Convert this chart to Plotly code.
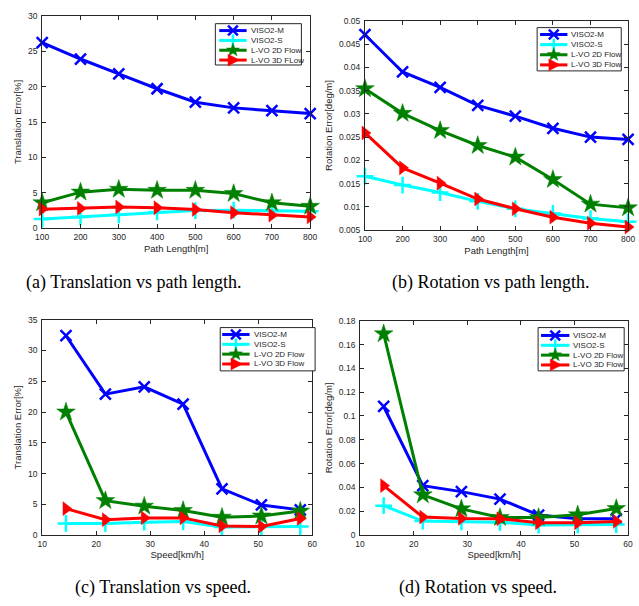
import math
import plotly.graph_objects as go

# ---------------- data ----------------
path_length = [100, 200, 300, 400, 500, 600, 700, 800]
speed = [14.4, 21.7, 28.9, 36.1, 43.3, 50.6, 57.8]

legend_names_a = ["VISO2-M", "VISO2-S", "L-VO 2D Flow", "L-VO 3D FLow"]
legend_names = ["VISO2-M", "VISO2-S", "L-VO 2D Flow", "L-VO 3D Flow"]

trans_path_viso2m = [26.2, 23.9, 21.8, 19.7, 17.8, 17.0, 16.6, 16.2]
trans_path_viso2s = [1.3, 1.6, 1.9, 2.3, 2.5, 2.55, 2.45, 2.4]
trans_path_lvo2d = [3.6, 5.1, 5.5, 5.35, 5.35, 4.9, 3.6, 3.1]
trans_path_lvo3d = [2.7, 2.8, 3.0, 2.9, 2.65, 2.2, 1.85, 1.6]

rot_path_viso2m = [0.0470, 0.0390, 0.0357, 0.0318, 0.0295, 0.0269, 0.0250, 0.0245]
rot_path_viso2s = [0.0166, 0.0147, 0.0131, 0.0112, 0.0096, 0.0086, 0.0075, 0.0068]
rot_path_lvo2d = [0.0354, 0.0301, 0.0264, 0.0232, 0.0207, 0.0159, 0.0106, 0.0098]
rot_path_lvo3d = [0.0259, 0.0184, 0.0151, 0.0117, 0.0096, 0.0078, 0.0065, 0.0057]

trans_speed_viso2m = [32.4, 22.9, 24.1, 21.3, 7.5, 4.9, 4.1]
trans_speed_viso2s = [1.9, 1.9, 2.1, 2.2, 1.3, 1.4, 1.4]
trans_speed_lvo2d = [20.0, 5.6, 4.7, 4.0, 2.9, 3.1, 3.9]
trans_speed_lvo3d = [4.3, 2.5, 2.8, 2.8, 1.5, 1.4, 2.7]

rot_speed_viso2m = [0.108, 0.0415, 0.0365, 0.0302, 0.0168, 0.0137, 0.0137]
rot_speed_viso2s = [0.0247, 0.0118, 0.0112, 0.0108, 0.0085, 0.0086, 0.0088]
rot_speed_lvo2d = [0.169, 0.0338, 0.0220, 0.0148, 0.0148, 0.0170, 0.0223]
rot_speed_lvo3d = [0.0415, 0.0151, 0.0140, 0.0137, 0.0104, 0.0104, 0.0115]

ticks_path = [100, 200, 300, 400, 500, 600, 700, 800]
ticks_speed = [10, 20, 30, 40, 50, 60]
ticks_trans_path = [0, 5, 10, 15, 20, 25, 30]
ticks_trans_speed = [0, 5, 10, 15, 20, 25, 30, 35]
ticks_rot_path = [0.005, 0.01, 0.015, 0.02, 0.025, 0.03, 0.035, 0.04, 0.045, 0.05]
ticklabels_rot_path = ["0.005", "0.01", "0.015", "0.02", "0.025", "0.03", "0.035", "0.04", "0.045", "0.05"]
ticks_rot_speed = [0, 0.02, 0.04, 0.06, 0.08, 0.1, 0.12, 0.14, 0.16, 0.18]
ticklabels_rot_speed = ["0", "0.02", "0.04", "0.06", "0.08", "0.1", "0.12", "0.14", "0.16", "0.18"]

xtitles = ["Path Length[m]", "Path Length[m]", "Speed[km/h]", "Speed[km/h]"]
ytitles = ["Translation Error[%]", "Rotation Error[deg/m]", "Translation Error[%]", "Rotation Error[deg/m]"]
captions = ["(a) Translation vs path length.", "(b) Rotation vs path length.",
            "(c) Translation vs speed.", "(d) Rotation vs speed."]

# ---------------- style / layout (pixels) ----------------
W, H = 639, 606
colors = ["#0000FF", "#00FFFF", "#008000", "#FF0000"]
symbols = ["x-thin", "cross-thin", "star", "triangle-right"]
msize = [11, 12, 14, 12]
TXT = "#262626"
SANS = "Liberation Sans, Arial, sans-serif"
SERIF = "Liberation Serif, Times New Roman, serif"

# plot boxes: (left, right, top, bottom)
boxes = [(36, 310, 11, 227), (366, 635, 16, 229), (36, 312, 320, 539), (361, 635, 321, 539)]
# legend boxes: (left, right, top, bottom, line_x0, line_x1, text_x, first_row, row_step)
legend_boxes = [
    (213, 301, 19, 61, 217, 245, 247, 26, 10.0),
    (542, 628, 23, 67, 545, 573, 575, 30, 10.3),
    (218, 315, 328, 372, 220, 248, 250, 335, 10.0),
    (543, 631, 328, 372, 546, 575, 577, 336, 10.0),
]
cap_pos = [(129, 282), (494, 282), (159, 592), (482, 592)]


def px(x):
    return x / W


def py(y):
    return 1 - y / H


fig = go.Figure()

panels = [
    (path_length, [trans_path_viso2m, trans_path_viso2s, trans_path_lvo2d, trans_path_lvo3d], legend_names_a),
    (path_length, [rot_path_viso2m, rot_path_viso2s, rot_path_lvo2d, rot_path_lvo3d], legend_names),
    (speed, [trans_speed_viso2m, trans_speed_viso2s, trans_speed_lvo2d, trans_speed_lvo3d], legend_names),
    (speed, [rot_speed_viso2m, rot_speed_viso2s, rot_speed_lvo2d, rot_speed_lvo3d], legend_names),
]

for p, (xs, ys_list, names) in enumerate(panels):
    ax = "" if p == 0 else str(p + 1)
    for i, ys in enumerate(ys_list):
        sym = symbols[i]
        fig.add_trace(go.Scatter(
            x=xs, y=ys, mode="lines+markers", name=names[i], showlegend=False,
            xaxis="x" + ax, yaxis="y" + ax,
            line=dict(color=colors[i], width=3),
            marker=dict(symbol=sym, size=msize[i], color=colors[i],
                        line=dict(color=colors[i], width=2.5 if "thin" in sym else 0.5)),
            cliponaxis=False,
        ))

axis_common = dict(
    showline=True, linecolor=TXT, linewidth=1, mirror="allticks",
    ticks="inside", ticklen=4, tickcolor=TXT, tickwidth=1,
    showgrid=False, zeroline=False,
    tickfont=dict(family=SANS, size=8.5, color=TXT),
)
xranges = [[100, 800], [100, 800], [10, 60], [10, 60]]
xticks = [ticks_path, ticks_path, ticks_speed, ticks_speed]
yranges = [[0, 30], [0.005, 0.05], [0, 35], [0, 0.18]]
yticks = [(ticks_trans_path, None), (ticks_rot_path, ticklabels_rot_path),
          (ticks_trans_speed, None), (ticks_rot_speed, ticklabels_rot_speed)]

layout = dict(
    width=W, height=H, margin=dict(l=0, r=0, t=0, b=0),
    paper_bgcolor="white", plot_bgcolor="white", showlegend=False,
)

for p in range(4):
    l, r, t, b = boxes[p]
    ax = "" if p == 0 else str(p + 1)
    xa = dict(axis_common)
    xa.update(domain=[px(l), px(r)], range=xranges[p], tickvals=xticks[p], anchor="y" + ax,
              ticklabelstandoff=1,
              title=dict(text=xtitles[p], font=dict(family=SANS, size=9.5, color=TXT), standoff=3))
    ya = dict(axis_common)
    tv, tt = yticks[p]
    ya.update(domain=[py(b), py(t)], range=yranges[p], tickvals=tv, anchor="x" + ax,
              ticklabelstandoff=2,
              title=dict(text=ytitles[p], font=dict(family=SANS, size=9.5, color=TXT), standoff=4))
    if tt is not None:
        ya["ticktext"] = tt
    layout["xaxis" + ax] = xa
    layout["yaxis" + ax] = ya

# ---------------- legends (MATLAB-style compact boxes) ----------------
shapes = []
annotations = []


def seg(x0, y0, x1, y1, color, width):
    return dict(type="line", xref="paper", yref="paper", x0=px(x0), y0=py(y0), x1=px(x1), y1=py(y1),
                line=dict(color=color, width=width), layer="above")


def poly(points, color):
    d = "M " + " L ".join(f"{px(a):.5f},{py(b):.5f}" for a, b in points) + " Z"
    return dict(type="path", xref="paper", yref="paper", path=d, fillcolor=color,
                line=dict(color=color, width=0.5), layer="above")


for p in range(4):
    bl, br, bt, bb, lx0, lx1, tx, r0, step = legend_boxes[p]
    names = panels[p][2]
    shapes.append(dict(type="rect", xref="paper", yref="paper", x0=px(bl), x1=px(br), y0=py(bb), y1=py(bt),
                       fillcolor="white", line=dict(color=TXT, width=1), layer="above"))
    for i in range(4):
        cy = r0 + i * step
        cx = (lx0 + lx1) / 2
        c = colors[i]
        shapes.append(seg(lx0, cy, lx1, cy, c, 3))
        if i == 0:
            shapes.append(seg(cx - 5, cy - 5, cx + 5, cy + 5, c, 2.5))
            shapes.append(seg(cx - 5, cy + 5, cx + 5, cy - 5, c, 2.5))
        elif i == 1:
            shapes.append(seg(cx - 6, cy, cx + 6, cy, c, 2.5))
            shapes.append(seg(cx, cy - 6, cx, cy + 6, c, 2.5))
        elif i == 2:
            pts = []
            for k in range(10):
                rad = 7 if k % 2 == 0 else 2.9
                ang = -math.pi / 2 + k * math.pi / 5
                pts.append((cx + rad * math.cos(ang), cy + rad * math.sin(ang)))
            shapes.append(poly(pts, c))
        else:
            shapes.append(poly([(cx - 5, cy - 6), (cx + 6.5, cy), (cx - 5, cy + 6)], c))
        annotations.append(dict(text=names[i], x=px(tx), y=py(cy), xref="paper", yref="paper",
                                showarrow=False, xanchor="left", yanchor="middle",
                                font=dict(family=SANS, size=8, color=TXT)))

for p in range(4):
    cx, cy = cap_pos[p]
    annotations.append(dict(text=captions[p], x=px(cx), y=py(cy), xref="paper", yref="paper",
                            showarrow=False, xanchor="center", yanchor="middle",
                            font=dict(family=SERIF, size=18, color="black")))

layout["shapes"] = shapes
layout["annotations"] = annotations
fig.update_layout(**layout)
fig.write_html("out.html", config={"displayModeBar": False},
               post_script="document.body.style.margin='0';document.body.style.overflow='hidden';")
